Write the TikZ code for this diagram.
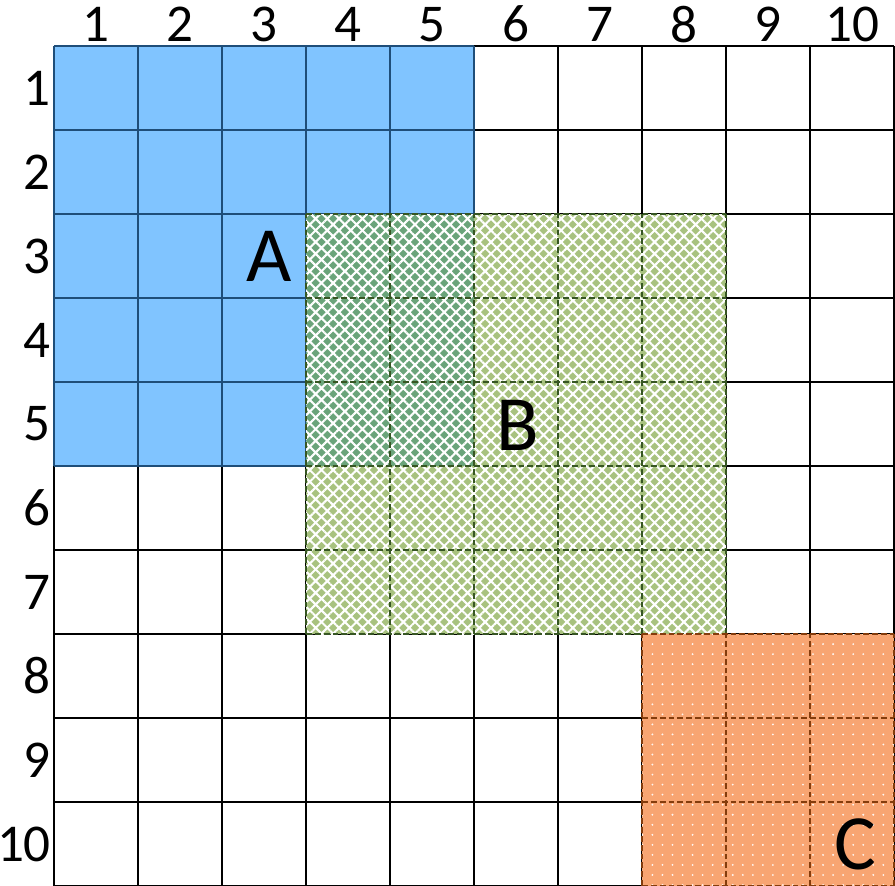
\documentclass[tikz,border=0pt]{standalone}
\usepackage{fontspec}
\setmainfont{Carlito}
\usepackage{xcolor}
\usepackage{tikz}
\usetikzlibrary{patterns.meta}
\definecolor{setablue}{HTML}{80C4FF}
\definecolor{setaline}{HTML}{1F4E79}
\definecolor{setbdeep}{HTML}{6AA47A}
\definecolor{setbolive}{HTML}{A8C27F}
\definecolor{setbline}{HTML}{375623}
\definecolor{setcorange}{HTML}{F8A572}
\definecolor{setcline}{HTML}{843C0C}
\tikzstyle{cellgrid} = [black, line width=0.6pt]
\tikzstyle{seta} = [setaline, line width=0.6pt]
\tikzstyle{setb} = [setbline, line width=0.6pt, dash pattern=on 2pt off 1pt]
\tikzstyle{setc} = [setcline, line width=0.6pt, dash pattern=on 2pt off 1pt]
\tikzstyle{hatchb} = [pattern={Hatch[angle=45,distance=2.8pt,line width=0.7pt]}, pattern color=white]
\tikzstyle{dotsc} = [pattern={Dots[angle=0,distance=3.4pt,radius=0.35pt]}, pattern color=white!90!setcorange]
\tikzstyle{idx} = [inner sep=0pt, font=\fontsize{18}{18}\selectfont]
\tikzstyle{setname} = [inner sep=0pt, font=\fontsize{26.5}{26.5}\selectfont]

\begin{document}
\begin{tikzpicture}[x=1cm, y=-1cm]
\useasboundingbox[fill=white] (-0.643,-0.548) rectangle (10.012,9.988);

% plain grid
\draw[cellgrid] (0,0) grid (10,10);

% set A
\fill[setablue] (0,0) rectangle (5,5);
\draw[seta] (0,0) grid (5,5);

% set B, drawn over A
\fill[setbolive] (3,2) rectangle (8,7);
\fill[setbdeep] (3,2) rectangle (5,5);
\fill[hatchb] (3,2) rectangle (8,7);
\draw[setb] (3,2) grid (8,7);

% set C
\fill[setcorange] (7,7) rectangle (10,10);
\fill[dotsc] (7,7) rectangle (10,10);
\draw[setc] (7,7) grid (10,10);

% indices
\foreach \i in {1,...,10} {
  \node[idx] (col\i) at (\i-0.5,-0.26) {\i};
  \node[idx, anchor=east] (row\i) at (-0.03,\i-0.5) {\i};
}

\node[setname] (nameA) at (2.56,2.51) {A};
\node[setname] (nameB) at (5.52,4.52) {B};
\node[setname] (nameC) at (9.54,9.51) {C};
\end{tikzpicture}
\end{document}
